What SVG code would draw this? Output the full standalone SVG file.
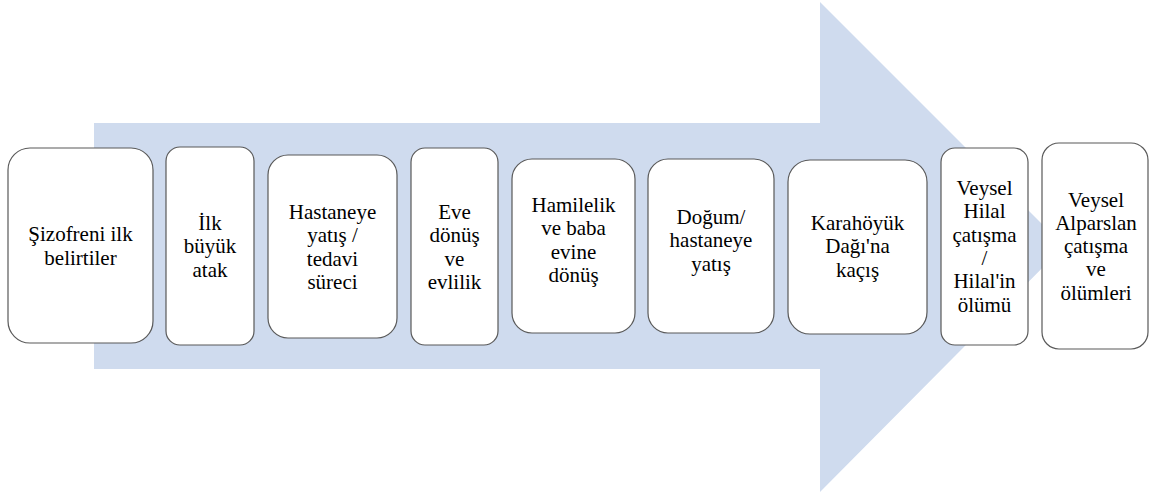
<svg xmlns="http://www.w3.org/2000/svg" width="1149" height="495" viewBox="0 0 1149 495">
<style>
.box{fill:#fff;stroke:#595959;stroke-width:1.2}
</style>
<rect width="1149" height="495" fill="#fff"/>
<g id="arrow">
<polygon points="94,123 820,123 820,2 1064,246 820,492 820,369 94,369" fill="#cfdbee"/>
</g>
<g id="connectors"></g>
<g font-family="Liberation Serif, Times New Roman, serif" font-size="21" text-anchor="middle" fill="#000">
<g id="n1"><rect class="box" x="8" y="148" width="145" height="195" rx="22"/>
<text x="80.5" y="241">&#350;izofreni ilk</text>
<text x="80.5" y="265">belirtiler</text></g>
<g id="n2"><rect class="box" x="166" y="147" width="88" height="198" rx="14"/>
<text x="210" y="230">&#304;lk</text>
<text x="210" y="253.3">b&#252;y&#252;k</text>
<text x="210" y="276.6">atak</text></g>
<g id="n3"><rect class="box" x="268" y="155" width="129" height="183" rx="20"/>
<text x="332.5" y="219">Hastaneye</text>
<text x="332.5" y="242.3">yat&#305;&#351; /</text>
<text x="332.5" y="265.6">tedavi</text>
<text x="332.5" y="288.9">s&#252;reci</text></g>
<g id="n4"><rect class="box" x="411" y="148" width="87" height="197" rx="14"/>
<text x="454.5" y="219">Eve</text>
<text x="454.5" y="242.3">d&#246;n&#252;&#351;</text>
<text x="454.5" y="265.6">ve</text>
<text x="454.5" y="288.9">evlilik</text></g>
<g id="n5"><rect class="box" x="512" y="159" width="123" height="174" rx="20"/>
<text x="573.5" y="212">Hamilelik</text>
<text x="573.5" y="235.3">ve baba</text>
<text x="573.5" y="258.6">evine</text>
<text x="573.5" y="281.9">d&#246;n&#252;&#351;</text></g>
<g id="n6"><rect class="box" x="648" y="159" width="126" height="174" rx="20"/>
<text x="711" y="224">Do&#287;um/</text>
<text x="711" y="247.3">hastaneye</text>
<text x="711" y="270.6">yat&#305;&#351;</text></g>
<g id="n7"><rect class="box" x="788" y="160" width="139" height="174" rx="22"/>
<text x="857.5" y="230">Karah&#246;y&#252;k</text>
<text x="857.5" y="253.3">Da&#287;&#305;'na</text>
<text x="857.5" y="276.6">ka&#231;&#305;&#351;</text></g>
<g id="n8"><rect class="box" x="941" y="148" width="87" height="197" rx="14"/>
<text x="984.5" y="195">Veysel</text>
<text x="984.5" y="218.3">Hilal</text>
<text x="984.5" y="241.6">&#231;at&#305;&#351;ma</text>
<text x="984.5" y="264.9">/</text>
<text x="984.5" y="288.2">Hilal'in</text>
<text x="984.5" y="311.5">&#246;l&#252;m&#252;</text></g>
<g id="n9"><rect class="box" x="1042" y="143" width="106" height="206" rx="17"/>
<text x="1096" y="206.5">Veysel</text>
<text x="1096" y="229.8">Alparslan</text>
<text x="1096" y="253.1">&#231;at&#305;&#351;ma</text>
<text x="1096" y="276.4">ve</text>
<text x="1096" y="299.7">&#246;l&#252;mleri</text></g>
</g>
</svg>
